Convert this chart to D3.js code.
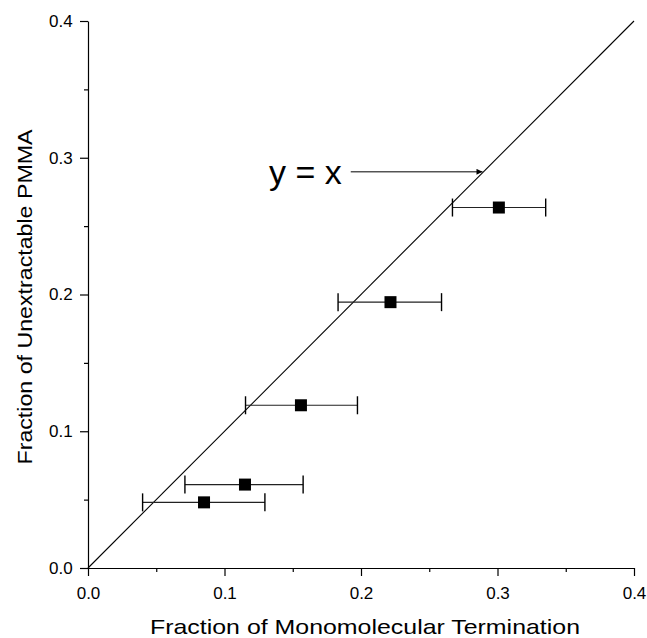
<!DOCTYPE html>
<html>
<head>
<meta charset="utf-8">
<script src="https://cdn.jsdelivr.net/npm/d3@7"></script>
<style>
  body { margin: 0; background: #fff; }
  text { font-family: Arial, "Liberation Sans", sans-serif; fill: #000; }
</style>
</head>
<body>
<div id="chart"></div>
<script>
// data
const xValues = [0.085, 0.115, 0.156, 0.2216, 0.301];
const yValues = [0.048, 0.061, 0.119, 0.1944, 0.2636];
const xLow = [0.040, 0.071, 0.1154, 0.1832, 0.267];
const xHigh = [0.1296, 0.1576, 0.1974, 0.259, 0.3353];
const tickValues = [0, 0.1, 0.2, 0.3, 0.4];
const minorTicks = [0.05, 0.15, 0.25, 0.35];
const identityLine = [0, 0.4];
const arrowFrom = [0.1925, 0.2897];
const arrowTo = [0.289, 0.2897];

const width = 647, height = 638;
const margin = { top: 21, right: 13, bottom: 70, left: 88 };

const svg = d3.select('#chart').append('svg')
  .attr('width', width)
  .attr('height', height);

const x = d3.scaleLinear().domain([0, 0.4]).range([margin.left, width - margin.right]);
const y = d3.scaleLinear().domain([0, 0.4]).range([height - margin.bottom, margin.top]);

svg.append('defs').append('marker')
  .attr('id', 'arrow')
  .attr('viewBox', '0 0 10 10')
  .attr('refX', 10).attr('refY', 5)
  .attr('markerWidth', 10).attr('markerHeight', 6)
  .attr('markerUnits', 'userSpaceOnUse')
  .attr('orient', 'auto')
  .append('path').attr('d', 'M0,0 L10,5 L0,10 Z').attr('fill', '#000');

// minor ticks
svg.append('g')
  .attr('transform', `translate(0,${y(0)})`)
  .call(d3.axisBottom(x).tickValues(minorTicks).tickSize(4).tickFormat(''))
  .call(g => g.select('.domain').remove());
svg.append('g')
  .attr('transform', `translate(${x(0)},0)`)
  .call(d3.axisLeft(y).tickValues(minorTicks).tickSize(4).tickFormat(''))
  .call(g => g.select('.domain').remove());

// major axes
const xAxis = svg.append('g')
  .attr('transform', `translate(0,${y(0)})`)
  .call(d3.axisBottom(x).tickValues(tickValues).tickSize(8).tickSizeOuter(0).tickFormat(d3.format('.1f')));
xAxis.attr('font-size', null).attr('font-family', null);
xAxis.selectAll('text').style('font-size', '17px').attr('dy', '1.2em');

const yAxis = svg.append('g')
  .attr('transform', `translate(${x(0)},0)`)
  .call(d3.axisLeft(y).tickValues(tickValues).tickSize(8).tickSizeOuter(0).tickFormat(d3.format('.1f')));
yAxis.attr('font-size', null).attr('font-family', null);
yAxis.selectAll('text').style('font-size', '17px').attr('dx', '-0.25em');

svg.selectAll('.domain, .tick line').attr('stroke', '#000').attr('stroke-width', 1.2);

// y = x line
svg.append('line')
  .attr('x1', x(identityLine[0])).attr('y1', y(identityLine[0]))
  .attr('x2', x(identityLine[1])).attr('y2', y(identityLine[1]))
  .attr('stroke', '#000').attr('stroke-width', 1.1);

// error bars
const pts = xValues.map((v, i) => ({ x: v, y: yValues[i], lo: xLow[i], hi: xHigh[i] }));
const eb = svg.append('g');
eb.selectAll('.bar').data(pts).enter().append('line')
  .attr('x1', d => x(d.lo)).attr('x2', d => x(d.hi))
  .attr('y1', d => y(d.y)).attr('y2', d => y(d.y))
  .attr('stroke', '#222').attr('stroke-width', 1.1);
['lo', 'hi'].forEach(k => {
  eb.selectAll('.cap-' + k).data(pts).enter().append('line')
    .attr('x1', d => x(d[k])).attr('x2', d => x(d[k]))
    .attr('y1', d => y(d.y) - 9).attr('y2', d => y(d.y) + 9)
    .attr('stroke', '#000').attr('stroke-width', 1.4);
});

// points
const s = 12;
svg.selectAll('.pt').data(pts).enter().append('rect')
  .attr('x', d => x(d.x) - s / 2).attr('y', d => y(d.y) - s / 2)
  .attr('width', s).attr('height', s)
  .attr('fill', '#000');

// annotation
svg.append('line')
  .attr('x1', x(arrowFrom[0])).attr('y1', y(arrowFrom[1]))
  .attr('x2', x(arrowTo[0])).attr('y2', y(arrowTo[1]))
  .attr('stroke', '#000').attr('stroke-width', 1)
  .attr('marker-end', 'url(#arrow)');
svg.append('text')
  .attr('x', x(arrowFrom[0]) - 9).attr('y', y(arrowFrom[1]) + 12)
  .attr('text-anchor', 'end')
  .attr('font-size', '34px')
  .text('y = x');

// axis titles
svg.append('text')
  .attr('x', 365).attr('y', 634)
  .attr('text-anchor', 'middle')
  .attr('font-size', '21px')
  .attr('textLength', 430)
  .attr('lengthAdjust', 'spacingAndGlyphs')
  .text('Fraction of Monomolecular Termination');

svg.append('text')
  .attr('transform', `translate(32,297) rotate(-90)`)
  .attr('text-anchor', 'middle')
  .attr('font-size', '21px')
  .attr('textLength', 335)
  .attr('lengthAdjust', 'spacingAndGlyphs')
  .text('Fraction of Unextractable PMMA');
</script>
</body>
</html>
